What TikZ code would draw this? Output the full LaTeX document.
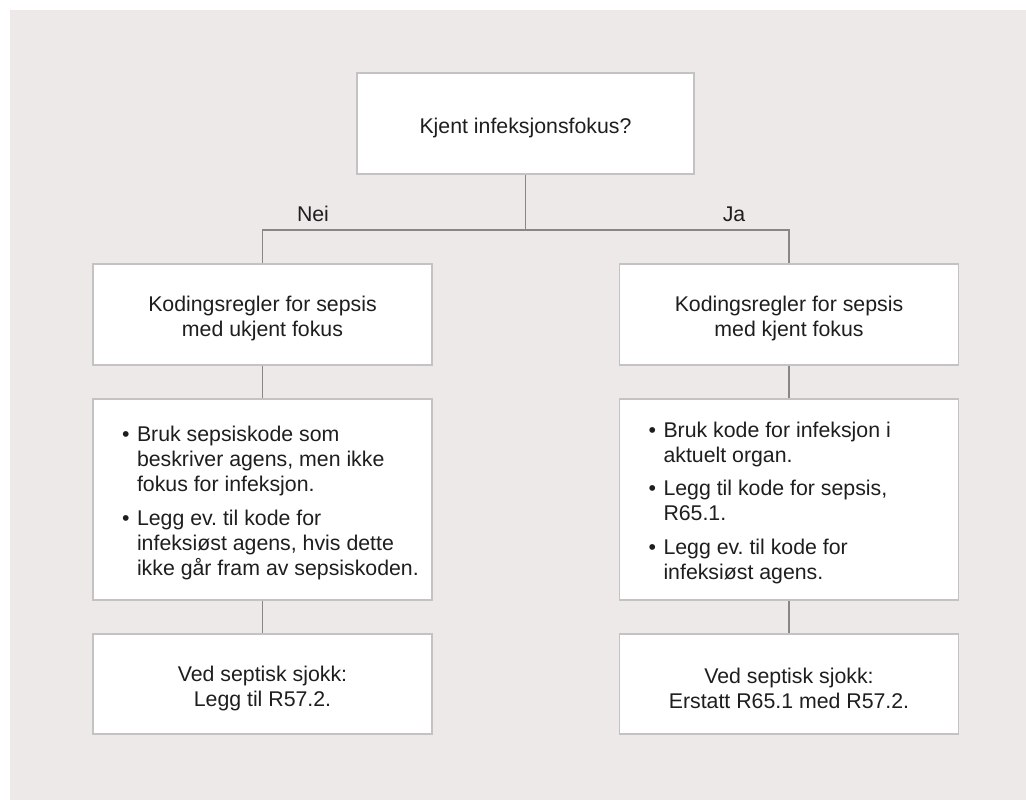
\documentclass[tikz,border=0pt]{standalone}
\usepackage{fontspec}
\setmainfont{Liberation Sans}
\frenchspacing
\definecolor{bgcol}{RGB}{237,233,232}
\definecolor{boxline}{RGB}{196,194,194}
\definecolor{conline}{RGB}{135,135,135}
\definecolor{txt}{RGB}{30,30,30}
\begin{document}
\begin{tikzpicture}[x=1pt,y=-1pt,
  every node/.style={font=\fontsize{21.3}{25}\selectfont, text=txt},
  flowbox/.style={draw=boxline, line width=1.3pt, fill=white, rectangle,
    minimum width=#1, inner sep=0pt},
  flowbox/.default=339,
  boxtext/.style={align=center, inner sep=0pt, yshift=-4pt},
  conn/.style={draw=conline, line width=1.2pt},
  lbl/.style={inner sep=0pt}
]
\useasboundingbox (0,0) rectangle (1026,800);
\fill[bgcol] (10,10) rectangle (1026,800);

\node[flowbox=337, minimum height=101] (top) at (525.5,123.5) {};
\node[boxtext] (topt) at (top.center) {Kjent infeksjonsfokus?};

\node[flowbox, minimum height=101] (l2) at (262.5,314.5) {};
\node[boxtext] (l2t) at (l2.center) {Kodingsregler for sepsis\\med ukjent fokus};
\node[flowbox, minimum height=101] (r2) at (789,314.5) {};
\node[boxtext] (r2t) at (r2.center) {Kodingsregler for sepsis\\med kjent fokus};

\node[flowbox, minimum height=201] (l3) at (262.5,499.5) {};
\node[flowbox, minimum height=201] (r3) at (789,499.5) {};

\node[flowbox, minimum height=100] (l4) at (262.5,684) {};
\node[boxtext] (l4t) at (l4.center) {Ved septisk sjokk:\\Legg til R57.2.};
\node[flowbox, minimum height=100] (r4) at (789,684) {};
\node[boxtext] (r4t) at (r4.center) {Ved septisk sjokk:\\Erstatt R65.1 med R57.2.};

\node[anchor=west, inner sep=0pt, align=left, yshift=-4pt] (l3t) at ([xshift=29.5]l3.west) {%
\begin{tabular}{@{}l@{\hspace{7.5pt}}l@{}}
\textbullet & Bruk sepsiskode som\\
 & beskriver agens, men ikke\\
 & fokus for infeksjon.\\[9pt]
\textbullet & Legg ev. til kode for\\
 & infeksiøst agens, hvis dette\\
 & ikke går fram av sepsiskoden.
\end{tabular}};
\node[anchor=west, inner sep=0pt, align=left, yshift=-4pt] (r3t) at ([xshift=29.5]r3.west) {%
\begin{tabular}{@{}l@{\hspace{7.5pt}}l@{}}
\textbullet & Bruk kode for infeksjon i\\
 & aktuelt organ.\\[8pt]
\textbullet & Legg til kode for sepsis,\\
 & R65.1.\\[9pt]
\textbullet & Legg ev. til kode for\\
 & infeksiøst agens.
\end{tabular}};

\coordinate (split) at (525.5,230);
\draw[conn] (top.south) -- (split);
\draw[conn] (l2.north) |- (split) -| (r2.north);
\draw[conn] (l2.south) -- (l3.north);
\draw[conn] (r2.south) -- (r3.north);
\draw[conn] (l3.south) -- (l4.north);
\draw[conn] (r3.south) -- (r4.north);

\node[lbl] (nei) at (313,214) {Nei};
\node[lbl] (ja) at (734,214) {Ja};
\end{tikzpicture}
\end{document}
